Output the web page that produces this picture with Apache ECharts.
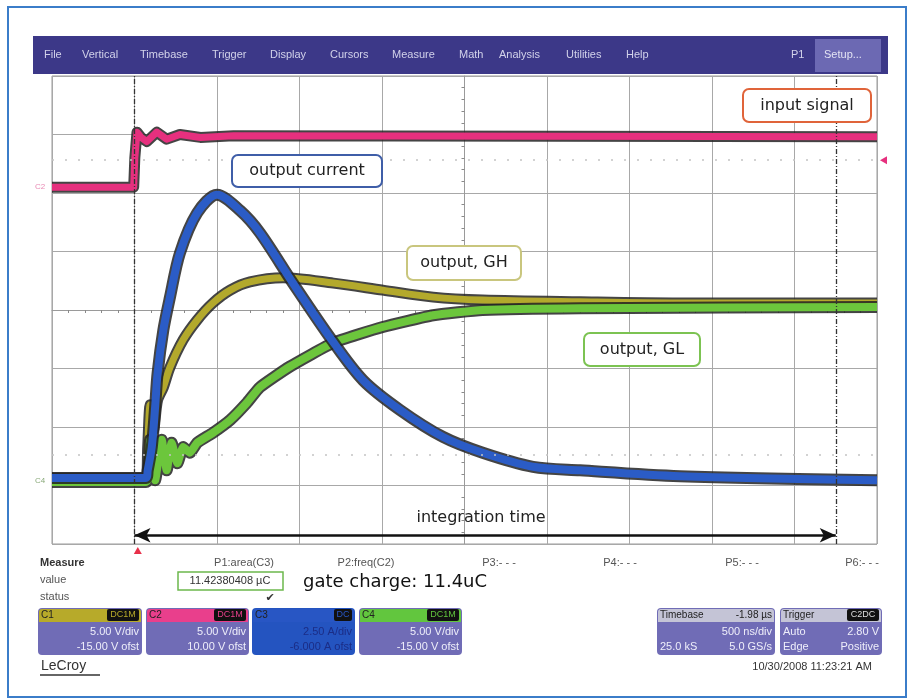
<!DOCTYPE html>
<html lang="en">
<head>
<meta charset="UTF-8">
<title>Gate charge measurement</title>
<script src="https://cdn.jsdelivr.net/npm/echarts@6/dist/echarts.min.js"></script>
<style>
  html, body { margin: 0; padding: 0; background: #fff; }
</style>
</head>
<body>
<div id="main" style="width: 914px;height:700px;"></div>
<script type="text/javascript">

// time in µs (500 ns/div, screen centre = 0), traces in screen divisions
const c2Time = [-2.5, -2.005, -1.998, -1.985, -1.96, -1.925, -1.865, -1.805, -1.725, -1.6, -1.4, 2.5];
const c2Div  = [2.10, 2.10, 2.60, 3.04, 2.95, 2.88, 3.04, 2.92, 3.00, 2.95, 2.98, 2.96];

const c3Time = [-2.5, -1.93, -1.92, -1.895, -1.875, -1.86, -1.825, -1.785, -1.725, -1.62, -1.5, -1.36,
                -1.24, -1.04, -0.805, -0.615, -0.39, -0.13, 0.11, 0.415, 0.7, 1.305, 2.5];
const c3Div  = [-2.87, -2.87, -2.74, -2.34, -1.66, -1.08, -0.34, 0.22, 0.97, 1.66, 1.97, 1.70,
                1.32, 0.46, -0.51, -1.20, -1.71, -2.17, -2.44, -2.68, -2.74, -2.84, -2.91];

const c1Time = [-2.5, -1.93, -1.92, -1.905, -1.885, -1.86, -1.825, -1.785, -1.705, -1.62, -1.525, -1.42,
                -1.3, -1.1, -0.795, -0.495, -0.19, 0.11, 0.7, 1.3, 2.5];
const c1Div  = [-2.87, -2.87, -2.34, -1.62, -2.05, -1.54, -1.32, -0.98, -0.51, -0.17, 0.12, 0.34,
                0.48, 0.55, 0.46, 0.34, 0.22, 0.17, 0.14, 0.12, 0.12];

const c4Time = [-2.5, -1.93, -1.905, -1.875, -1.835, -1.805, -1.775, -1.74, -1.705, -1.665, -1.62, -1.525,
                -1.42, -1.32, -1.24, -1.06, -0.795, -0.495, -0.19, 0.11, 0.7, 2.5];
const c4Div  = [-2.94, -2.94, -2.22, -2.91, -2.22, -2.74, -2.27, -2.62, -2.34, -2.44, -2.27, -2.10,
                -1.88, -1.59, -1.32, -0.97, -0.56, -0.29, -0.09, 0.0, 0.03, 0.05];

const cursorTimes = [-2.0, 2.25];
const arrowLevel = -3.85;
const triggerTime = -1.98;
const triggerLevel = 2.56;
const dottedLevels = [2.56, -2.48];

const menuItems = ['File', 'Vertical', 'Timebase', 'Trigger', 'Display', 'Cursors', 'Measure', 'Math', 'Analysis', 'Utilities', 'Help'];
const menuX = [44, 82, 140, 212, 270, 330, 392, 459, 499, 566, 626];
const paramLabels = ['P1:area(C3)', 'P2:freq(C2)', 'P3:- - -', 'P4:- - -', 'P5:- - -', 'P6:- - -'];
const paramX = [244, 366, 499, 620, 742, 862];

function pairs(t, v) {
    return t.map((x, i) => [x, v[i]]);
}

function trace(t, v, color, width, smooth) {
    return {
        type: 'line', data: pairs(t, v), showSymbol: false, smooth: smooth,
        animation: false, silent: true,
        lineStyle: { color: color, width: width, cap: 'butt', join: 'round' }
    };
}

const myChart = echarts.init(document.getElementById('main'));

const edge = 'rgba(35,35,35,0.85)';
const series = [
    trace(c1Time, c1Div, edge, 11, 0.3),
    trace(c1Time, c1Div, '#b3a92c', 7, 0.3),
    trace(c4Time, c4Div, edge, 12, 0.15),
    trace(c4Time, c4Div, '#6cc63c', 8, 0.15),
    trace(c3Time, c3Div, edge, 12, 0.3),
    trace(c3Time, c3Div, '#2b5cc6', 8, 0.3),
    trace(c2Time, c2Div, edge, 11, false),
    trace(c2Time, c2Div, '#e6307e', 7, false)
];

// cursors, trigger level and integration arrow
series[7].markLine = {
    silent: true, animation: false, symbol: 'none',
    label: { show: false },
    data: [
        { xAxis: cursorTimes[0], lineStyle: { color: '#333', width: 1.3, type: [5, 2, 1, 2] } },
        { xAxis: cursorTimes[1], lineStyle: { color: '#333', width: 1.3, type: [5, 2, 1, 2] } },
        { yAxis: dottedLevels[0], lineStyle: { color: '#c4c4c4', width: 1.5, type: [2, 11] } },
        { yAxis: dottedLevels[1], lineStyle: { color: '#c4c4c4', width: 1.5, type: [2, 11] } },
        [
            { coord: [cursorTimes[0], arrowLevel], symbol: 'arrow', symbolSize: [11, 16], symbolRotate: 90 },
            { coord: [cursorTimes[1], arrowLevel], symbol: 'arrow', symbolSize: [11, 16], symbolRotate: -90,
              lineStyle: { color: '#111', width: 2.5, type: 'solid' } }
        ]
    ]
};

myChart.setOption({
    animation: false,
    grid: { left: 52, top: 76, width: 825, height: 468, show: true, borderColor: '#9a9a9a', borderWidth: 1, backgroundColor: '#fff' },
    xAxis: {
        type: 'value', min: -2.5, max: 2.5, interval: 0.5,
        axisLine: { onZero: true, lineStyle: { color: '#9a9a9a' } },
        axisTick: { show: false },
        minorTick: { show: true, splitNumber: 5, length: 3, lineStyle: { color: '#8a8a8a' } },
        axisLabel: { show: false },
        splitLine: { show: true, lineStyle: { color: '#a8a8a8', width: 1 } }
    },
    yAxis: {
        type: 'value', min: -4, max: 4, interval: 1,
        axisLine: { onZero: true, lineStyle: { color: '#9a9a9a' } },
        axisTick: { show: false },
        minorTick: { show: true, splitNumber: 5, length: 3, lineStyle: { color: '#8a8a8a' } },
        axisLabel: { show: false },
        splitLine: { show: true, lineStyle: { color: '#a8a8a8', width: 1 } }
    },
    series: series
});

// scope frame, annotations and readouts
const ui = 'Liberation Sans, Arial, sans-serif';
const note = 'DejaVu Sans, Verdana, sans-serif';
const g = [];

g.push({ type: 'rect', shape: { x: 8, y: 7, width: 898, height: 690 }, style: { fill: 'none', stroke: '#3b7dc9', lineWidth: 2 } });
g.push({ type: 'rect', shape: { x: 33, y: 36, width: 855, height: 38 }, style: { fill: '#3c3888' } });
g.push({ type: 'rect', shape: { x: 815, y: 39, width: 66, height: 33 }, style: { fill: '#6c69b3' } });
menuItems.forEach((m, i) => {
    g.push({ type: 'text', x: menuX[i], y: 55, style: { text: m, fill: '#d2d2ea', font: '11px ' + ui, verticalAlign: 'middle' } });
});
g.push({ type: 'text', x: 791, y: 55, style: { text: 'P1', fill: '#d2d2ea', font: '11px ' + ui, verticalAlign: 'middle' } });
g.push({ type: 'text', x: 824, y: 55, style: { text: 'Setup...', fill: '#e4e4f4', font: '11px ' + ui, verticalAlign: 'middle' } });

// channel tags on left edge
g.push({ type: 'text', x: 35, y: 187, style: { text: 'C2', fill: '#e98ab4', font: '8px ' + ui, verticalAlign: 'middle' } });
g.push({ type: 'text', x: 35, y: 481, style: { text: 'C4', fill: '#8aaa7a', font: '8px ' + ui, verticalAlign: 'middle' } });

function noteBox(x, y, w, h, color, text) {
    g.push({ type: 'rect', z: 50, shape: { x: x, y: y, width: w, height: h, r: 6 }, style: { fill: '#fff', stroke: color, lineWidth: 2 } });
    g.push({ type: 'text', z: 51, x: x + w / 2, y: y + h / 2, style: { text: text, fill: '#222', font: '16px ' + note, align: 'center', verticalAlign: 'middle' } });
}
noteBox(743, 89, 128, 33, '#e0643a', 'input signal');
noteBox(232, 155, 150, 32, '#3f5ea8', 'output current');
noteBox(407, 246, 114, 34, '#c9c67e', 'output, GH');
noteBox(584, 333, 116, 33, '#7cc352', 'output, GL');
g.push({ type: 'text', z: 51, x: 481, y: 518, style: { text: 'integration time', fill: '#222', font: '16px ' + note, align: 'center', verticalAlign: 'middle' } });

// trigger markers
const trigPt = myChart.convertToPixel({ gridIndex: 0 }, [triggerTime, -4]);
g.push({ type: 'polygon', shape: { points: [[trigPt[0], trigPt[1] + 3], [trigPt[0] - 4, trigPt[1] + 10], [trigPt[0] + 4, trigPt[1] + 10]] }, style: { fill: '#e8304a' } });
const lvlPt = myChart.convertToPixel({ gridIndex: 0 }, [2.5, triggerLevel]);
g.push({ type: 'polygon', shape: { points: [[lvlPt[0] + 3, lvlPt[1]], [lvlPt[0] + 10, lvlPt[1] - 4], [lvlPt[0] + 10, lvlPt[1] + 4]] }, style: { fill: '#e6307e' } });

// measurement rows
g.push({ type: 'text', x: 40, y: 563, style: { text: 'Measure', fill: '#333', font: 'bold 11px ' + ui, verticalAlign: 'middle' } });
g.push({ type: 'text', x: 40, y: 580, style: { text: 'value', fill: '#555', font: '11px ' + ui, verticalAlign: 'middle' } });
g.push({ type: 'text', x: 40, y: 597, style: { text: 'status', fill: '#555', font: '11px ' + ui, verticalAlign: 'middle' } });
paramLabels.forEach((p, i) => {
    g.push({ type: 'text', x: paramX[i], y: 563, style: { text: p, fill: '#555', font: '11px ' + ui, align: 'center', verticalAlign: 'middle' } });
});
g.push({ type: 'rect', shape: { x: 178, y: 572, width: 105, height: 18 }, style: { fill: '#fff', stroke: '#6cb84c', lineWidth: 1.5 } });
g.push({ type: 'text', x: 230, y: 581, style: { text: '11.42380408 µC', fill: '#333', font: '11px ' + ui, align: 'center', verticalAlign: 'middle' } });
g.push({ type: 'text', x: 303, y: 582, style: { text: 'gate charge: 11.4uC', fill: '#111', font: '18px ' + note, verticalAlign: 'middle' } });
g.push({ type: 'text', x: 270, y: 598, style: { text: '✔', fill: '#333', font: '11px ' + note, align: 'center', verticalAlign: 'middle' } });

function chanBox(x, w, head, body, label, badge, badgeFill, lines, textColor) {
    g.push({ type: 'rect', shape: { x: x, y: 608, width: w, height: 47, r: 4 }, style: { fill: body } });
    g.push({ type: 'rect', shape: { x: x + 1, y: 609, width: w - 2, height: 13, r: [3, 3, 0, 0] }, style: { fill: head } });
    g.push({ type: 'text', x: x + 3, y: 615, style: { text: label, fill: '#222', font: '10px ' + ui, verticalAlign: 'middle' } });
    if (badge) {
        const bw = badge.length * 7 + 4;
        g.push({ type: 'rect', shape: { x: x + w - bw - 3, y: 609, width: bw, height: 12, r: 2 }, style: { fill: '#111' } });
        g.push({ type: 'text', x: x + w - 3 - bw / 2, y: 615, style: { text: badge, fill: badgeFill, font: '9px ' + ui, align: 'center', verticalAlign: 'middle' } });
    }
    lines.forEach((ln, i) => {
        const yy = 632 + i * 15;
        if (ln[0]) g.push({ type: 'text', x: x + 3, y: yy, style: { text: ln[0], fill: textColor, font: '11px ' + ui, verticalAlign: 'middle' } });
        g.push({ type: 'text', x: x + w - 3, y: yy, style: { text: ln[1], fill: textColor, font: '11px ' + ui, align: 'right', verticalAlign: 'middle' } });
    });
}
chanBox(38, 104, '#b7aa2a', '#706cb6', 'C1', 'DC1M', '#b7aa2a', [['', '5.00 V/div'], ['', '-15.00 V ofst']], '#eeeefa');
chanBox(146, 103, '#e93f8c', '#706cb6', 'C2', 'DC1M', '#e93f8c', [['', '5.00 V/div'], ['', '10.00 V ofst']], '#eeeefa');
chanBox(252, 103, '#2856c4', '#2454c0', 'C3', 'DC', '#2856c4', [['', '2.50 A/div'], ['', '-6.000 A ofst']], '#1b2d86');
chanBox(359, 103, '#62c63e', '#706cb6', 'C4', 'DC1M', '#62c63e', [['', '5.00 V/div'], ['', '-15.00 V ofst']], '#eeeefa');
chanBox(657, 118, '#c4c4d6', '#706cb6', 'Timebase', '', '#000', [['', '500 ns/div'], ['25.0 kS', '5.0 GS/s']], '#eeeefa');
chanBox(780, 102, '#c4c4d6', '#706cb6', 'Trigger', 'C2DC', '#ddd', [['Auto', '2.80 V'], ['Edge', 'Positive']], '#eeeefa');
g.push({ type: 'text', x: 772, y: 615, style: { text: '-1.98 µs', fill: '#222', font: '10px ' + ui, align: 'right', verticalAlign: 'middle' } });

g.push({ type: 'text', x: 41, y: 666, style: { text: 'LeCroy', fill: '#333', font: '14px ' + ui, verticalAlign: 'middle' } });
g.push({ type: 'line', shape: { x1: 40, y1: 675, x2: 100, y2: 675 }, style: { stroke: '#333', lineWidth: 1.5 } });
g.push({ type: 'text', x: 872, y: 667, style: { text: '10/30/2008 11:23:21 AM', fill: '#333', font: '11px ' + ui, align: 'right', verticalAlign: 'middle' } });

myChart.setOption({ graphic: g });
</script>
</body>
</html>
